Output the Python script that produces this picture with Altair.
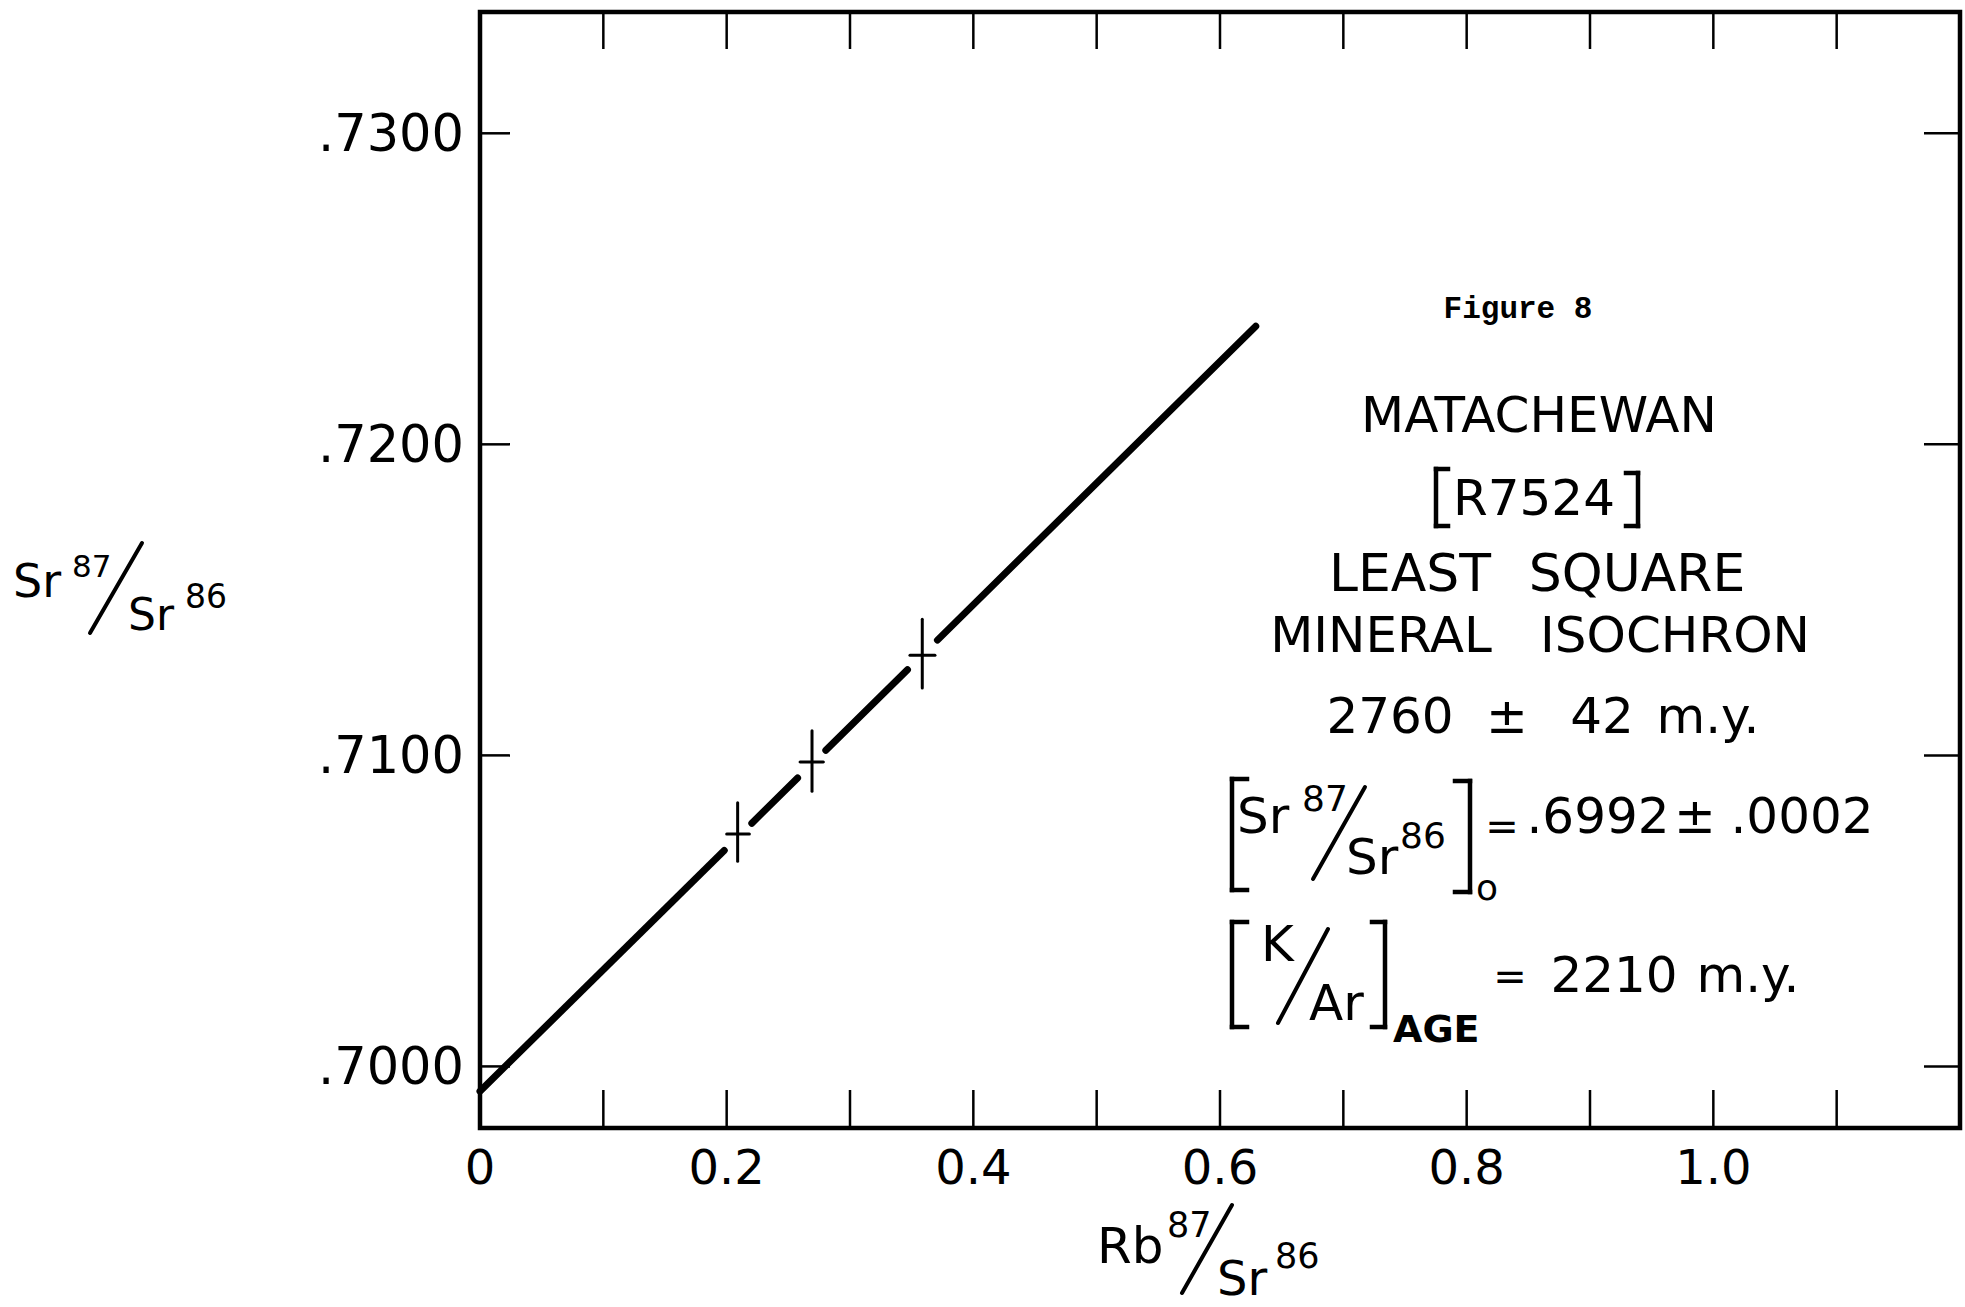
import math

import altair as alt
import pandas as pd

SANS = "DejaVu Sans"
MONO = "Liberation Mono"
INK = "black"

# Measured minerals: Rb87/Sr86 vs Sr87/Sr86 with the extent of each error cross
rb_sr = [0.2089, 0.2692, 0.3586]
sr_sr = [0.70747, 0.70979, 0.71322]
sr_hi = [0.70848, 0.71079, 0.71438]
sr_lo = [0.70660, 0.70885, 0.71217]
rb_lo = [0.2000, 0.2595, 0.3486]
rb_hi = [0.2184, 0.2784, 0.3689]

# Least-squares isochron results
age_my = 2760
age_err_my = 42
initial_ratio = 0.6992
initial_err = 0.0002
k_ar_age_my = 2210
isochron_x_end = 0.629
LAMBDA_RB87 = 1.39e-11  # decay constant, per year

# Axis ticks and labels
x_tick_values = [0.1, 0.2, 0.3, 0.4, 0.5, 0.6, 0.7, 0.8, 0.9, 1.0, 1.1]
x_label_values = [0.0, 0.2, 0.4, 0.6, 0.8, 1.0]
x_label_text = ["0", "0.2", "0.4", "0.6", "0.8", "1.0"]
y_tick_values = [0.70, 0.71, 0.72, 0.73]
y_label_text = [".7000", ".7100", ".7200", ".7300"]

W, H = 1480, 1116
LEFT, TOP = 480, 12

slope = math.exp(LAMBDA_RB87 * age_my * 1e6) - 1

# The isochron is drawn in pieces, broken where it passes through each cross
seg_x0 = [0.0] + [h + 0.002 for h in rb_hi]
seg_x1 = [lo - 0.002 for lo in rb_lo] + [isochron_x_end]
segments = pd.DataFrame({"x": seg_x0, "x2": seg_x1})
segments["y"] = initial_ratio + slope * segments["x"]
segments["y2"] = initial_ratio + slope * segments["x2"]

points = pd.DataFrame(
    {"rb": rb_sr, "sr": sr_sr, "sr_hi": sr_hi, "sr_lo": sr_lo, "rb_lo": rb_lo, "rb_hi": rb_hi}
)

xs = alt.Scale(domain=[0, 1.2], nice=False, zero=False)
ys = alt.Scale(domain=[0.69802, 0.7339], nice=False, zero=False)


def X(field):
    return alt.X(field, type="quantitative", scale=xs, axis=None)


def Y(field):
    return alt.Y(field, type="quantitative", scale=ys, axis=None)


isochron = alt.Chart(segments).mark_rule(
    color=INK, strokeWidth=7, strokeCap="round"
).encode(x=X("x"), x2="x2:Q", y=Y("y"), y2="y2:Q")

v_bars = alt.Chart(points).mark_rule(color=INK, strokeWidth=3, strokeCap="round").encode(
    x=X("rb"), y=Y("sr_lo"), y2="sr_hi:Q"
)
h_bars = alt.Chart(points).mark_rule(color=INK, strokeWidth=3, strokeCap="round").encode(
    x=X("rb_lo"), x2="rb_hi:Q", y=Y("sr")
)

# Inward ticks on all four sides of the frame
xt = pd.DataFrame({"v": x_tick_values})
yt = pd.DataFrame({"v": y_tick_values})
tick_style = dict(color=INK, strokeWidth=2.5)

ticks_bottom = alt.Chart(xt).mark_rule(**tick_style).encode(
    x=X("v"), y=alt.value(H), y2=alt.value(H - 38)
)
ticks_top = alt.Chart(xt).mark_rule(**tick_style).encode(
    x=X("v"), y=alt.value(0), y2=alt.value(37)
)
ticks_left = alt.Chart(yt).mark_rule(**tick_style).encode(
    y=Y("v"), x=alt.value(0), x2=alt.value(30)
)
ticks_right = alt.Chart(yt).mark_rule(**tick_style).encode(
    y=Y("v"), x=alt.value(W), x2=alt.value(W - 36)
)

# Tick labels
x_labels = alt.Chart(pd.DataFrame({"v": x_label_values, "t": x_label_text})).mark_text(
    align="center", baseline="alphabetic", font=SANS, fontSize=48, color=INK
).encode(x=X("v"), y=alt.value(H + 56), text="t:N")

y_labels = alt.Chart(pd.DataFrame({"v": y_tick_values, "t": y_label_text})).mark_text(
    align="right", baseline="alphabetic", font=SANS, fontSize=51, color=INK, dx=-16, dy=18
).encode(y=Y("v"), x=alt.value(0), text="t:N")

ONE = pd.DataFrame({"k": [0]})


def txt(s, px, py, size, align="left", font=SANS, weight="normal"):
    """Text placed by page pixel position of its baseline."""
    return alt.Chart(pd.DataFrame({"t": [s]})).mark_text(
        align=align, baseline="alphabetic", font=font, fontSize=size,
        fontWeight=weight, color=INK,
    ).encode(text="t:N", x=alt.value(px - LEFT), y=alt.value(py - TOP))


def stroke(x1, y1, x2, y2, w=4, cap="round"):
    return alt.Chart(ONE).mark_rule(color=INK, strokeWidth=w, strokeCap=cap).encode(
        x=alt.value(x1 - LEFT), y=alt.value(y1 - TOP),
        x2=alt.value(x2 - LEFT), y2=alt.value(y2 - TOP),
    )


def bracket(x, y_top, y_bot, serif_x, w=4.5):
    return [
        stroke(x, y_top, x, y_bot, w, "square"),
        stroke(x, y_top, serif_x, y_top, w, "square"),
        stroke(x, y_bot, serif_x, y_bot, w, "square"),
    ]


notes = []

# Axis titles written as slanted fractions
notes += [
    txt("Sr", 13, 597, 46),
    txt("87", 72, 577, 31),
    stroke(142, 543, 90, 633, 4),
    txt("Sr", 128, 630, 44),
    txt("86", 185, 608, 33),
]
notes += [
    txt("Rb", 1097, 1263, 50),
    txt("87", 1167, 1237, 35),
    stroke(1232, 1205, 1182, 1293, 4),
    txt("Sr", 1217, 1295, 48),
    txt("86", 1275, 1268, 35),
]

# Result block
notes += [
    txt("Figure 8", 1518, 318, 31, "center", MONO, "bold"),
    txt("MATACHEWAN", 1539, 432, 50, "center"),
    txt("R7524", 1534, 515, 50, "center"),
    txt("LEAST", 1410, 591, 52, "center"),
    txt("SQUARE", 1637, 591, 52, "center"),
    txt("MINERAL", 1381, 652, 50, "center"),
    txt("ISOCHRON", 1675, 652, 50, "center"),
    txt(f"{age_my}", 1390, 733, 50, "center"),
    txt("\u00b1", 1507, 733, 50, "center"),
    txt(f"{age_err_my}", 1602, 733, 50, "center"),
    txt("m.y.", 1708, 733, 50, "center"),
]
notes += bracket(1436, 469, 526, 1448)
notes += bracket(1638, 473, 526, 1626)

# Initial ratio
notes += bracket(1232, 779, 890, 1247)
notes += bracket(1470, 781, 892, 1455)
notes += [
    txt("Sr", 1237, 833, 50),
    txt("87", 1302, 811, 36),
    stroke(1365, 787, 1313, 879, 4),
    txt("Sr", 1346, 874, 50),
    txt("86", 1400, 848, 36),
    txt("o", 1487, 900, 36, "center"),
    txt("=", 1502, 840, 40, "center"),
    txt(f"{initial_ratio:.4f}"[1:], 1598, 833, 50, "center"),
    txt("\u00b1", 1695, 833, 50, "center"),
    txt(f"{initial_err:.4f}"[1:], 1802, 833, 50, "center"),
]

# K/Ar age
notes += bracket(1232, 922, 1027, 1247)
notes += bracket(1385, 922, 1027, 1372)
notes += [
    txt("K", 1261, 961, 50),
    stroke(1328, 929, 1278, 1023, 4),
    txt("Ar", 1309, 1020, 50),
    txt("AGE", 1393, 1042, 38, "left", SANS, "bold"),
    txt("=", 1510, 990, 40, "center"),
    txt(f"{k_ar_age_my}", 1614, 992, 50, "center"),
    txt("m.y.", 1748, 992, 50, "center"),
]

chart = alt.layer(
    isochron, v_bars, h_bars,
    ticks_bottom, ticks_top, ticks_left, ticks_right,
    x_labels, y_labels, *notes
).properties(
    width=W,
    height=H,
    autosize=alt.AutoSizeParams(type="none"),
    padding={"left": LEFT, "top": TOP, "right": 1965 - LEFT - W, "bottom": 1307 - TOP - H},
    background="white",
).configure_view(stroke=INK, strokeWidth=4.5)

chart.save("out.html", embed_options={"renderer": "svg", "actions": False})
